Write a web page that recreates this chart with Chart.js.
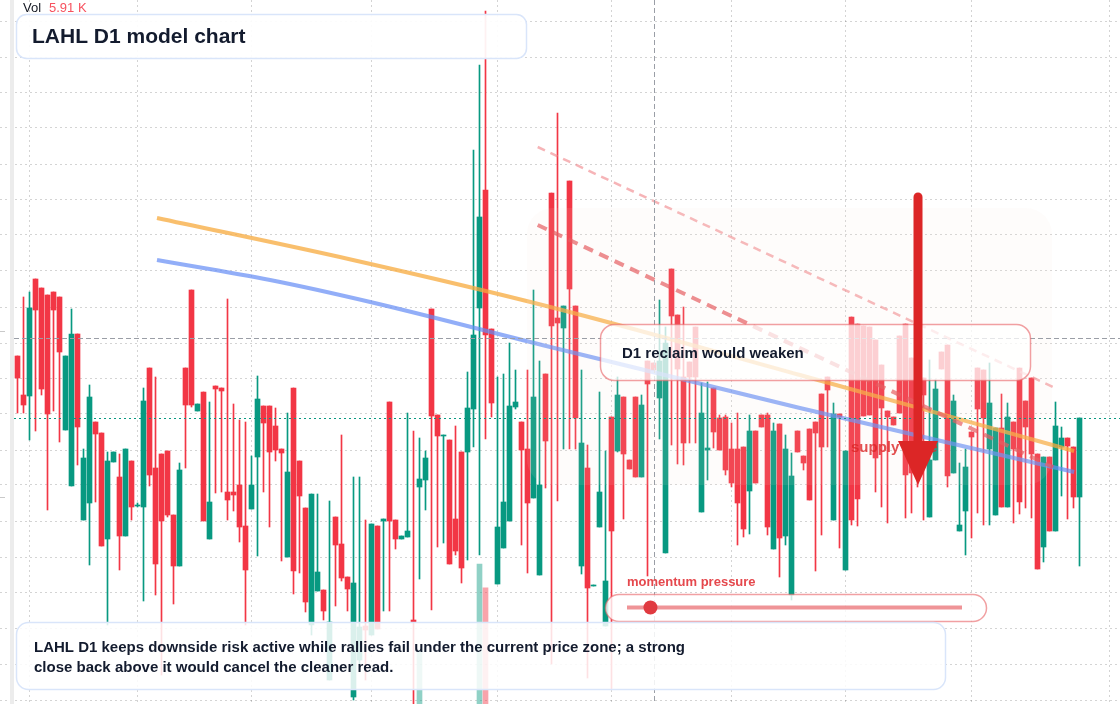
<!DOCTYPE html>
<html>
<head>
<meta charset="utf-8">
<script src="https://cdn.jsdelivr.net/npm/chart.js@4.4.1/dist/chart.umd.min.js"></script>
<style>
  html, body { margin: 0; padding: 0; background: #fff; overflow: hidden; }
  canvas { display: block; }
</style>
</head>
<body>
<canvas id="chart" width="1120" height="704"></canvas>
<script>
// LAHL daily candles, oldest first
const opens = [6.44,6.05,6.04,7.21,7.12,7.05,7.08,7.03,5.70,5.14, 6.66,4.80,4.97,5.78,5.67,4.61,5.38,5.23,4.64,5.39,
  4.94,4.93,6.32,5.32,5.46,5.49,4.85,4.34,6.32,7.10, 5.89,6.08,4.61,6.14,6.12,5.08,5.08,5.15,4.74,4.91,
  5.43,5.94,5.94,5.74,5.51,4.43,6.12,5.39,4.92,3.75, 4.09,4.10,3.20,4.83,4.56,4.23,3.03,3.40,3.74,3.65,
  4.74,4.79,5.98,4.80,4.61,4.63,3.80,5.13,5.20,6.91, 5.85,5.64,5.60,4.81,5.48,5.48,5.91,6.92,8.10,6.71,
  4.16,4.52,4.79,5.93,5.78,5.51,5.02,4.25,6.26,8.07, 6.82,6.72,8.19,6.94,4.34,5.32,4.14,4.73,3.74,5.83,
  5.49,6.03,5.40,6.03,5.23,6.39,6.37,6.02,4.47,7.31, 6.85,6.23,6.38,6.73,4.88,5.50,6.12,5.82,5.83,5.51,
  5.51,5.53,5.09,5.69,5.85,5.85,4.51,5.76,4.64,4.05, 5.69,5.44,5.71,5.78,6.06,6.23,4.80,5.86,4.30,6.83,
  6.76,6.74,6.73,6.60,6.35,5.89,5.83,6.64,6.76,6.42, 5.90,6.22,4.83,5.40,6.48,6.55,5.27,4.69,4.89,5.68,
  6.32,6.30,5.51,4.85,5.72,4.93,5.78,6.32,5.99,6.22, 5.46,4.53,5.43,4.69,5.53,5.62,5.53,5.03];
const highs = [6.44,7.03,7.08,7.21,7.12,7.05,7.08,7.03,6.44,6.91, 6.66,5.51,6.15,5.78,5.67,5.48,5.48,5.46,5.51,5.39,
  4.97,6.12,6.32,6.23,5.46,5.49,4.85,5.37,6.32,7.10, 5.96,6.08,5.98,6.14,6.12,7.01,5.96,5.80,5.78,5.44,
  6.24,5.94,5.94,5.92,5.51,5.87,6.12,5.39,4.92,5.06, 5.06,4.10,4.99,4.83,5.65,4.23,5.23,5.23,4.80,4.76,
  4.74,4.81,5.98,4.80,4.64,5.87,5.69,5.62,5.49,6.91, 5.85,5.65,5.60,5.74,5.48,6.28,8.50,9.35,9.89,6.71,
  6.23,6.26,6.57,6.30,5.78,6.30,7.10,6.39,6.26,8.07, 8.87,6.94,8.19,6.94,6.30,5.55,4.15,6.08,5.49,5.83,
  6.23,6.03,5.40,6.03,6.05,6.39,6.37,7.00,6.73,7.31, 6.85,6.93,6.38,6.73,6.17,6.18,6.12,5.85,5.85,5.77,
  5.87,5.53,5.85,5.69,5.85,5.87,5.77,5.76,5.65,5.47, 5.69,5.44,5.71,5.78,6.06,6.23,5.97,5.86,5.49,6.83,
  6.76,6.74,6.73,6.60,6.35,5.89,5.83,6.64,6.76,6.42, 6.10,6.22,6.40,6.20,6.48,6.55,6.05,5.37,5.51,5.68,
  6.32,6.30,6.37,5.72,6.06,5.97,5.78,6.32,5.99,6.22, 5.46,5.43,5.43,5.98,5.73,5.62,5.53,5.82];
const lows = [5.87,5.87,5.60,5.69,6.05,4.90,5.89,5.58,5.70,5.14, 5.35,4.80,4.35,4.98,4.54,3.75,5.38,4.30,4.64,4.80,
  4.93,3.99,5.14,4.05,3.25,4.83,3.96,4.34,5.32,5.93, 5.89,4.79,4.61,5.07,5.08,4.80,4.89,4.58,3.75,4.91,
  4.44,5.08,4.73,5.39,4.39,4.43,4.06,4.27,3.88,3.65, 4.09,3.80,3.20,3.94,4.19,3.89,3.00,3.35,3.20,3.65,
  3.71,3.89,3.89,4.51,4.61,4.63,2.90,4.21,4.90,3.90, 4.53,4.57,4.36,4.45,4.17,4.40,5.53,4.45,5.61,5.83,
  4.16,4.52,4.79,5.91,4.55,4.27,5.02,4.25,5.12,3.36, 4.99,5.51,5.51,5.51,4.26,3.22,4.14,4.73,3.74,3.11,
  5.48,4.81,5.31,5.23,5.23,4.24,6.30,5.61,4.47,5.55, 5.36,5.35,5.57,5.57,4.88,5.20,5.52,5.50,5.25,5.13,
  4.55,4.63,4.66,5.17,5.73,4.65,4.51,4.23,4.55,4.00, 5.48,5.30,5.00,4.29,4.65,5.53,4.80,4.52,4.30,4.75,
  4.74,5.84,5.85,5.08,4.93,4.77,5.75,5.87,4.82,4.87, 5.13,4.80,4.83,5.40,6.31,5.13,5.27,4.69,4.45,4.62,
  4.87,4.75,4.75,4.85,4.93,4.93,4.77,4.86,4.92,4.82, 4.31,4.38,4.69,4.69,5.04,4.81,4.92,4.34];
const closes = [6.22,5.95,6.92,6.90,6.11,5.86,6.90,6.48,6.44,6.66, 5.73,5.42,6.03,5.66,4.54,5.39,5.48,4.64,5.51,4.93,
  4.95,5.99,5.25,4.36,4.79,4.85,4.34,5.30,5.95,5.95, 5.96,4.79,4.98,6.11,6.09,5.00,5.05,4.73,4.30,5.15,
  6.01,5.77,5.48,5.50,5.47,5.28,4.29,5.04,3.98,5.06, 4.28,3.89,3.78,4.55,4.22,4.11,4.17,3.73,3.70,4.76,
  3.71,4.81,4.79,4.61,4.64,4.69,3.78,5.21,5.42,5.84, 5.64,5.65,4.36,4.49,4.32,5.92,6.65,7.83,6.65,5.97,
  4.73,4.98,5.94,5.98,5.50,4.97,6.03,5.15,5.59,6.74, 6.77,6.94,7.11,5.82,5.57,4.12,4.15,5.08,4.19,4.69,
  6.05,5.46,5.31,5.23,5.95,6.16,6.30,6.39,6.57,6.84, 6.31,5.57,6.23,6.23,5.87,5.52,5.68,5.50,5.30,5.17,
  4.97,4.71,5.69,5.17,5.73,4.73,5.69,4.62,5.51,5.24, 5.48,5.37,5.00,5.67,5.53,6.10,5.86,5.83,5.49,4.80,
  5.01,5.84,5.85,5.42,5.92,5.83,5.75,5.87,5.25,5.27, 5.30,6.05,5.40,6.11,6.31,5.24,5.99,4.75,5.33,5.63,
  5.91,5.82,5.97,5.72,4.93,5.83,5.51,4.98,5.73,5.46, 4.31,5.43,4.69,5.74,5.62,5.54,5.03,5.82];

// volume bars that reach into view (rest sit below the visible pane)
const volumeIndex = [67, 77, 78, 177];
const volumeValue = [13400, 22100, 19700, 5910];

// study lines (bar index / price)
const orangeX = [23.25, 55.9, 88.8, 130.4, 176.1];
const orangeY = [7.82, 7.40, 6.93, 6.25, 5.49];
const blueX = [23.25, 42.1, 58.8, 88.8, 130.4, 176.1];
const blueY = [7.40, 7.20, 6.98, 6.53, 5.92, 5.28];
const channelX = [86.7, 172.6];
const channelLow = [7.75, 5.33];
const channelHigh = [8.53, 6.13];

const gridPrices = [9.79,9.43,9.07,8.72,8.36,8.00,7.65,7.29,6.93,6.57,6.22,5.86,5.50,5.15,4.79,4.43,4.08,3.72,3.36,3.00];
const monthTicks = [2, 20, 39, 59, 80, 99, 119, 138, 159, 182];

const zone = { from: 84.9, to: 172.4, top: 7.92, bottom: 5.15 };
const crossIdx = 106, crossPrice = 6.62;
const momentum = 0.07;
const lastVolume = '5.91 K';

const UP = '#089981', DOWN = '#f23645';
const GRID = 'rgba(0,0,0,0.17)';
const n = closes.length;
const isUp = closes.map((c, i) => c >= opens[i]);
const candleColor = ctx => isUp[ctx.raw.x] ? UP : DOWN;
const FONT = '"Liberation Sans", Arial, sans-serif';

function rr(ctx, x, y, w, h, r) {
  ctx.beginPath();
  ctx.moveTo(x + r, y);
  ctx.lineTo(x + w - r, y);
  ctx.arcTo(x + w, y, x + w, y + r, r);
  ctx.lineTo(x + w, y + h - r);
  ctx.arcTo(x + w, y + h, x + w - r, y + h, r);
  ctx.lineTo(x + r, y + h);
  ctx.arcTo(x, y + h, x, y + h - r, r);
  ctx.lineTo(x, y + r);
  ctx.arcTo(x, y, x + r, y, r);
  ctx.closePath();
}

const overlay = {
  id: 'overlay',
  beforeDatasetsDraw(chart) {
    const { ctx, scales: { x } } = chart;
    ctx.save();
    // month grid lines
    ctx.strokeStyle = GRID;
    ctx.lineWidth = 1;
    ctx.setLineDash([2, 3]);
    monthTicks.forEach(t => {
      const gx = Math.round(x.getPixelForValue(t)) - 0.5;
      ctx.beginPath(); ctx.moveTo(gx, 0); ctx.lineTo(gx, 704); ctx.stroke();
    });
    ctx.setLineDash([]);
    ctx.fillStyle = '#ececec';
    ctx.fillRect(10, 0, 4, 704);
    ctx.strokeStyle = '#c9c9c9';
    [331.5, 497.5].forEach(yy => { ctx.beginPath(); ctx.moveTo(0, yy); ctx.lineTo(5, yy); ctx.stroke(); });
    ctx.restore();
  },
  afterDatasetsDraw(chart) {
    const { ctx, scales: { x, y } } = chart;
    ctx.save();

    // supply zone shading
    const zx0 = x.getPixelForValue(zone.from), zx1 = x.getPixelForValue(zone.to);
    const zy0 = y.getPixelForValue(zone.top), zy1 = y.getPixelForValue(zone.bottom);
    rr(ctx, zx0, zy0, zx1 - zx0, zy1 - zy0, 26);
    ctx.fillStyle = 'rgba(246,222,212,0.1)';
    ctx.fill();

    // last price line
    const py = Math.round(y.getPixelForValue(closes[n - 1])) + 0.5;
    ctx.setLineDash([2, 3]);
    ctx.strokeStyle = UP;
    ctx.lineWidth = 1;
    ctx.beginPath(); ctx.moveTo(14, py); ctx.lineTo(1120, py); ctx.stroke();

    // crosshair
    const cx = Math.round(x.getPixelForValue(crossIdx)) + 0.5;
    const cy = Math.round(y.getPixelForValue(crossPrice)) + 0.5;
    ctx.setLineDash([5, 3]);
    ctx.strokeStyle = '#9a9ea6';
    ctx.beginPath(); ctx.moveTo(14, cy); ctx.lineTo(1120, cy); ctx.stroke();
    ctx.beginPath(); ctx.moveTo(cx, 0); ctx.lineTo(cx, 704); ctx.stroke();
    ctx.setLineDash([]);

    // title box
    rr(ctx, 16.5, 14.5, 510, 44, 10);
    ctx.fillStyle = 'rgba(255,255,255,0.93)';
    ctx.fill();
    ctx.strokeStyle = '#d9e5fa';
    ctx.lineWidth = 1.5;
    ctx.stroke();
    ctx.fillStyle = '#131b2e';
    ctx.font = 'bold 21px ' + FONT;
    ctx.textBaseline = 'middle';
    ctx.fillText('LAHL D1 model chart', 32, 37);

    // volume legend
    ctx.font = '13px ' + FONT;
    ctx.fillStyle = '#131722';
    ctx.fillText('Vol', 23, 8.5);
    ctx.fillStyle = '#f7525f';
    ctx.fillText(lastVolume, 49, 8.5);

    // reclaim box
    rr(ctx, 600.5, 324.5, 430, 56, 14);
    ctx.fillStyle = 'rgba(255,255,255,0.74)';
    ctx.fill();
    ctx.strokeStyle = 'rgba(232,96,100,0.6)';
    ctx.lineWidth = 1.5;
    ctx.stroke();
    ctx.fillStyle = '#131b2e';
    ctx.font = 'bold 15px ' + FONT;
    ctx.fillText('D1 reclaim would weaken', 622, 353.5);

    // supply label + arrow
    ctx.fillStyle = 'rgba(220,38,38,0.8)';
    ctx.font = 'bold 15px ' + FONT;
    ctx.fillText('supply zone', 851, 448);
    ctx.strokeStyle = '#dc2626';
    ctx.lineWidth = 9;
    ctx.lineCap = 'round';
    ctx.beginPath(); ctx.moveTo(918, 197); ctx.lineTo(918, 446); ctx.stroke();
    ctx.lineCap = 'butt';
    ctx.fillStyle = '#dc2626';
    ctx.beginPath(); ctx.moveTo(898, 441); ctx.lineTo(938, 441); ctx.lineTo(918, 485); ctx.closePath(); ctx.fill();

    // momentum pill
    ctx.fillStyle = '#e5484d';
    ctx.font = 'bold 13px ' + FONT;
    ctx.fillText('momentum pressure', 627, 582);
    rr(ctx, 605.5, 594.5, 381, 27, 13.5);
    ctx.fillStyle = 'rgba(255,255,255,0.8)';
    ctx.fill();
    ctx.strokeStyle = 'rgba(232,96,100,0.6)';
    ctx.lineWidth = 1.5;
    ctx.stroke();
    const t0 = 627, t1 = 962, ty = 607.5;
    ctx.strokeStyle = 'rgba(230,90,95,0.65)';
    ctx.lineWidth = 4;
    ctx.beginPath(); ctx.moveTo(t0, ty); ctx.lineTo(t1, ty); ctx.stroke();
    ctx.fillStyle = '#e03a40';
    ctx.beginPath(); ctx.arc(t0 + (t1 - t0) * momentum, ty, 7, 0, Math.PI * 2); ctx.fill();

    // summary box
    rr(ctx, 16.5, 622.5, 929, 67, 12);
    ctx.fillStyle = 'rgba(255,255,255,0.85)';
    ctx.fill();
    ctx.strokeStyle = '#d9e5fa';
    ctx.lineWidth = 1.5;
    ctx.stroke();
    ctx.fillStyle = '#131b2e';
    ctx.font = 'bold 15px ' + FONT;
    ctx.fillText('LAHL D1 keeps downside risk active while rallies fail under the current price zone; a strong', 34, 647.5);
    ctx.fillText('close back above it would cancel the cleaner read.', 34, 667.5);

    ctx.restore();
  }
};

const lineData = (xs, ys) => xs.map((v, i) => ({ x: v, y: ys[i] }));

new Chart(document.getElementById('chart'), {
  type: 'line',
  data: {
    datasets: [
      {
        order: 0,
        data: lineData(channelX, channelHigh),
        borderColor: 'rgba(240,130,135,0.6)', borderWidth: 2.5, borderDash: [8, 6],
        pointRadius: 0
      },
      {
        order: 0,
        data: lineData(channelX, channelLow),
        borderColor: 'rgba(228,80,85,0.7)', borderWidth: 4, borderDash: [10, 7],
        pointRadius: 0
      },
      {
        order: 0,
        data: lineData(orangeX, orangeY),
        borderColor: 'rgba(247,170,60,0.75)', borderWidth: 4,
        pointRadius: 0, cubicInterpolationMode: 'monotone'
      },
      {
        order: 0,
        data: lineData(blueX, blueY),
        borderColor: 'rgba(100,140,245,0.7)', borderWidth: 4,
        pointRadius: 0, cubicInterpolationMode: 'monotone'
      },
      {
        type: 'bar', order: 1,
        data: opens.map((o, i) => ({ x: i, y: [o, closes[i]] })),
        backgroundColor: candleColor,
        barThickness: 5, minBarLength: 1, grouped: false
      },
      {
        type: 'bar', order: 2,
        data: lows.map((l, i) => ({ x: i, y: [l, highs[i]] })),
        backgroundColor: candleColor,
        barThickness: 1, grouped: false
      },
      {
        type: 'bar', order: 3, yAxisID: 'vol',
        data: volumeIndex.map((v, k) => ({ x: v, y: volumeValue[k] })),
        backgroundColor: ctx => isUp[ctx.raw.x] ? 'rgba(8,153,129,0.45)' : 'rgba(242,54,69,0.45)',
        barThickness: 5, grouped: false
      }
    ]
  },
  options: {
    responsive: false,
    animation: false,
    layout: { padding: 0 },
    plugins: { legend: { display: false }, tooltip: { enabled: false } },
    scales: {
      x: {
        type: 'linear', min: -2.9167, max: 183.75, offset: false,
        ticks: { display: false },
        grid: { display: false },
        border: { display: false },
        afterFit: s => { s.height = 0; }
      },
      y: {
        min: 2.96, max: 10.0,
        ticks: { display: false },
        grid: { color: GRID, drawTicks: false },
        border: { display: false, dash: [2, 3] },
        afterBuildTicks: s => { s.ticks = gridPrices.map(v => ({ value: v })); },
        afterFit: s => { s.width = 0; }
      },
      vol: { axis: 'y', display: false, min: 8000, max: 78900 }
    }
  },
  plugins: [overlay]
});
</script>
</body>
</html>
